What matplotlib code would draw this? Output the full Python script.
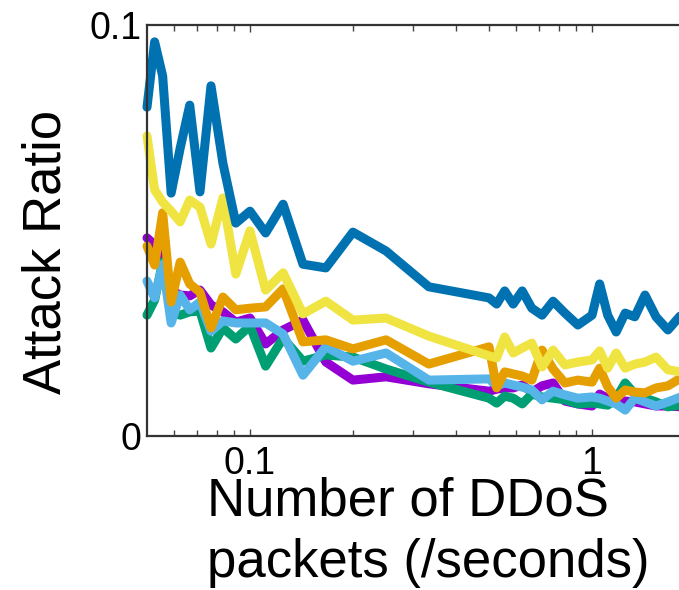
from matplotlib import pyplot as plt
from matplotlib.ticker import FixedLocator, NullFormatter

plt.rcParams['font.family'] = ['Liberation Sans', 'DejaVu Sans']

####-------------------------- data --------------------------####
rate = [1/20, 1/19, 1/18, 1/17, 1/16, 1/15, 1/14, 1/13, 1/12, 1/11,
        1/10, 1/9, 1/8, 1/7, 1/6, 1/5, 1/4, 1/3, 1/2,
        10/19, 10/18, 10/17, 10/16, 10/15, 10/14, 10/13, 10/12, 10/11, 10/10,
        20/19, 20/18, 20/17, 20/16, 20/15, 20/14, 20/13, 20/12, 20/11]

# attack ratio in units of 1/1000
purple = [48.2, 46.5, 44.0, 35.5, 34.3, 34.1, 35.5, 31.9, 30.2, 27.7,
          28.7, 22.4, 25.8, 28.2, 18.0, 13.6, 14.4, 12.7, 10.9,
          11.4, 11.7, 11.7, 12.4, 10.7, 12.2, 12.9, 8.5, 7.8, 7.3,
          10.2, 9.2, 8.8, 8.5, 8.3, 7.8, 7.3, 7.3, 7.1]
green = [29.4, 33.1, 42.3, 30.2, 29.4, 30.2, 30.4, 21.4, 26.3, 23.6,
         26.8, 17.0, 23.8, 18.2, 19.7, 19.2, 16.3, 13.1, 9.2,
         8.0, 9.7, 9.2, 7.8, 10.2, 9.5, 9.2, 8.8, 7.8, 8.0,
         7.8, 7.5, 9.2, 12.9, 10.2, 9.2, 8.3, 7.1, 7.5]
skyblue = [37.7, 33.6, 41.8, 27.5, 34.3, 30.7, 32.6, 25.5, 28.0, 27.5,
           27.5, 27.5, 24.8, 14.8, 21.7, 18.2, 20.2, 13.6, 13.9,
           12.2, 12.9, 12.4, 11.9, 11.2, 8.8, 10.9, 10.0, 9.2, 9.5,
           9.2, 8.5, 7.8, 6.3, 9.2, 8.3, 7.3, 8.3, 9.5]
orange = [46.2, 41.6, 54.3, 32.6, 42.3, 37.0, 35.0, 26.3, 33.8, 30.7,
          31.1, 31.4, 35.8, 22.9, 23.4, 21.2, 23.4, 17.5, 21.7,
          11.7, 15.6, 15.1, 14.6, 13.6, 20.9, 16.3, 12.9, 13.6, 13.1,
          16.5, 12.0, 9.2, 11.2, 10.7, 10.5, 11.7, 12.2, 14.1]
yellow = [73.0, 59.9, 56.9, 54.7, 52.1, 57.4, 55.7, 46.7, 57.9, 39.4,
          49.9, 35.5, 39.7, 29.7, 32.8, 28.2, 28.7, 24.3, 19.5,
          19.0, 24.1, 20.2, 21.4, 22.6, 16.8, 20.9, 17.3, 18.0, 18.5,
          20.7, 16.5, 20.2, 16.5, 17.5, 18.0, 19.2, 16.1, 15.6]
blue = [80.0, 95.9, 87.6, 59.1, 70.0, 80.5, 59.4, 85.2, 66.4, 51.8,
        54.7, 49.4, 56.4, 41.8, 40.9, 49.6, 45.0, 36.3, 33.6,
        32.1, 35.3, 32.1, 35.3, 31.1, 29.4, 32.8, 29.9, 27.0, 29.4,
        37.0, 29.4, 25.3, 29.9, 29.0, 34.3, 29.0, 25.8, 29.4]

series = [purple, green, skyblue, orange, yellow, blue]
colors = ['#9400D3', '#009E73', '#56B4E9', '#E69F00', '#F0E442', '#0072B2']

####-------------------------- plot --------------------------####
fig = plt.figure(figsize=(6.79, 5.9), dpi=100)
ax = fig.add_axes([147/679, 154/590, 548/679, 411/590])

for s, c in zip(series, colors):
    ax.plot(rate, [v/1000 for v in s], color=c, lw=6.5, clip_on=False,
            solid_joinstyle='round', solid_capstyle='round')

ax.set_xscale('log')
ax.set_xlim(0.05, 2)
ax.set_ylim(0, 0.1)

ax.set_xticks([0.1, 1])
ax.set_xticklabels(['0.1', '1'])
ax.xaxis.set_minor_locator(FixedLocator([0.06, 0.07, 0.08, 0.09, 0.2, 0.3, 0.4, 0.5,
                                         0.6, 0.7, 0.8, 0.9, 2]))
ax.xaxis.set_minor_formatter(NullFormatter())
ax.set_yticks([0, 0.1])
ax.set_yticklabels(['0', '0.1'])

ax.tick_params(axis='x', which='both', direction='in', top=True, labelsize=27,
               width=1, color='#444444', pad=7)
ax.tick_params(axis='x', which='major', length=5)
ax.tick_params(axis='x', which='minor', length=4)
ax.tick_params(axis='y', length=0, labelsize=27, pad=4)

for sp in ax.spines.values():
    sp.set_color('#333333')
    sp.set_linewidth(1.6)

fig.text(47/679, 1 - 252/590, 'Attack Ratio', rotation=90, fontsize=38,
         ha='center', va='center')
fig.text(207/679, 1 - 515/590, 'Number of DDoS', fontsize=38, ha='left', va='baseline')
fig.text(207/679, 1 - 577/590, 'packets (/seconds)', fontsize=38, ha='left', va='baseline')

plt.savefig('out.png', dpi=100)
